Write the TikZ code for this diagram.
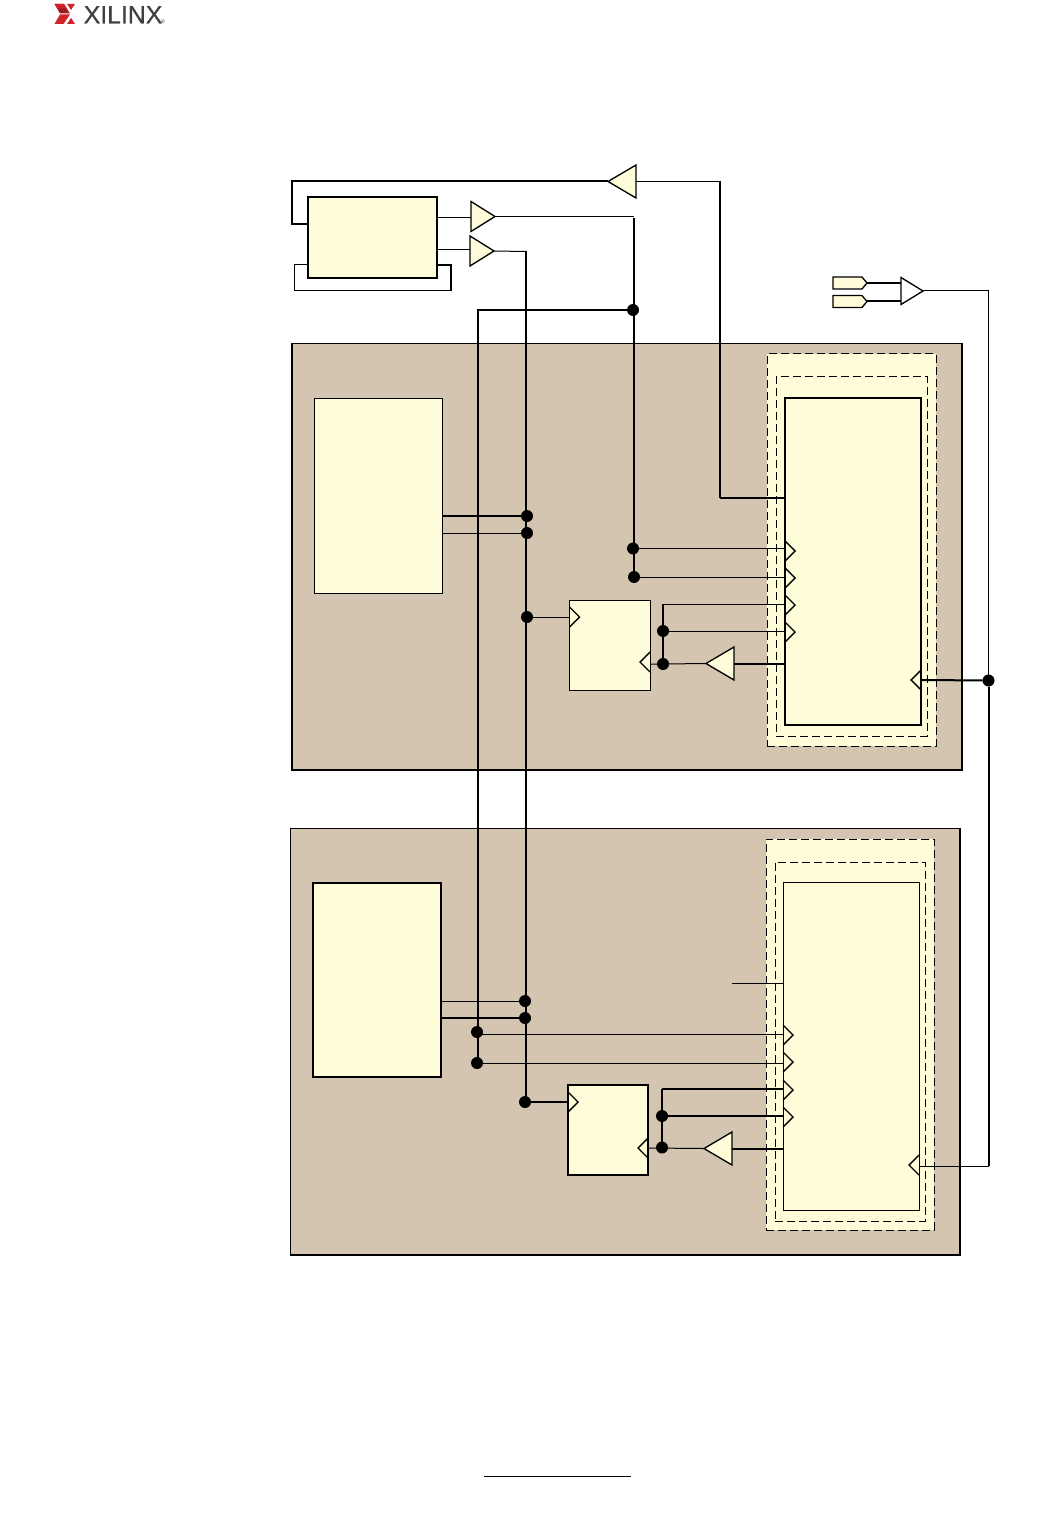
\documentclass[tikz,border=0pt]{standalone}
\usepackage{fontspec}
\setmainfont{Liberation Sans}
\usetikzlibrary{shapes.geometric,shapes.symbols}
\definecolor{tan}{HTML}{D3C5AF}
\definecolor{ylw}{HTML}{FFFCDA}
\definecolor{xred}{HTML}{D2232A}
\definecolor{xdark}{HTML}{9E1C22}
\definecolor{xgray}{HTML}{3F3F41}
\tikzset{
  thin line/.style={line width=0.75pt},
  thick line/.style={line width=1.5pt},
  boxnode/.style={draw=black,fill=ylw,rectangle,inner sep=0pt,outer sep=0pt,line width=1.1pt},
  panel/.style={draw=black,fill=tan,rectangle,inner sep=0pt,outer sep=0pt,line width=0.6pt},
  dashbox/.style={draw=black,fill=ylw,rectangle,inner sep=0pt,outer sep=0pt,line width=0.75pt,dash pattern=on 6pt off 3pt},
  dashline/.style={draw=black,rectangle,inner sep=0pt,outer sep=0pt,line width=0.75pt,dash pattern=on 6pt off 3pt},
  dot/.style={circle,fill=black,draw=none,minimum size=9pt,inner sep=0pt,outer sep=0pt},
  buf/.style={isosceles triangle,isosceles triangle stretches,draw=black,fill=ylw,line width=1pt,inner sep=0pt,outer sep=0pt,anchor=apex},
  pad/.style={signal,signal to=east,signal pointer angle=100,draw=black,fill=ylw,line width=1pt,inner sep=0pt,outer sep=0pt,minimum width=34*0.75pt,minimum height=12*0.75pt,anchor=east},
  chev/.style={line width=1.05pt,line join=miter}
}
\newcommand{\chevR}[1]{\draw[chev] (#1)++(0,-10) -- ++(10,10) -- ++(-10,10);}
\newcommand{\chevL}[1]{\draw[chev] (#1)++(0,-10) -- ++(-10,10) -- ++(10,10);}
\begin{document}
\begin{tikzpicture}[x=0.75pt,y=-0.75pt]
\useasboundingbox (0,0) rectangle (1062,1515);
% logo
\fill[xdark] (54.5,4) -- (64,4) -- (70,13.5) -- (60,13.5) -- cycle;
\fill[xred] (54.5,4) -- (64,4) -- (67,8.5) -- (58,8.5) -- cycle;
\fill[xred] (54.5,24) -- (63.5,24) -- (70,14.5) -- (60,14.5) -- cycle;
\fill[xred] (75,4) -- (67,4) -- (71,10) -- cycle;
\fill[xred] (75,24) -- (67,24) -- (71,18) -- cycle;
\node[anchor=base west,inner sep=0pt,text=xgray,font=\fontsize{18.6}{18.6}\selectfont] (logotext) at (83.5,23.3) {\addfontfeature{FakeBold=0.4}XILINX};
\node[anchor=base west,inner sep=0pt,text=xgray,font=\fontsize{4}{4}\selectfont] (logoreg) at (160.5,23.3) {®};
% panels
\node[panel,minimum width=670*0.75pt,minimum height=427*0.75pt] (panelA) at (627,556.5) {};
\draw[line width=1.3pt] (panelA.north east) -- (panelA.south east) -- (panelA.south west) -- (panelA.north west);
\node[panel,minimum width=670*0.75pt,minimum height=427*0.75pt] (panelB) at (625,1041.5) {};
\draw[line width=1.3pt] (panelB.north east) -- (panelB.south east) -- (panelB.south west);
% dashed regions
\node[dashbox,minimum width=169*0.75pt,minimum height=392*0.75pt] (dashAo) at (851.5,550) {};
\node[dashline,minimum width=151*0.75pt,minimum height=359*0.75pt] (dashAi) at (851.5,556.5) {};
\node[dashbox,minimum width=168*0.75pt,minimum height=391*0.75pt] (dashBo) at (850,1034.5) {};
\node[dashline,minimum width=150*0.75pt,minimum height=359*0.75pt] (dashBi) at (850,1041.5) {};
% boxes
\node[boxnode,minimum width=129*0.75pt,minimum height=81*0.75pt] (pll) at (372.5,237.5) {};
\node[boxnode,line width=0.72pt,minimum width=128*0.75pt,minimum height=195*0.75pt] (blockA) at (378,495.5) {};
\node[boxnode,line width=0.72pt,minimum width=81*0.75pt,minimum height=90*0.75pt] (ffA) at (609.5,645) {};
\node[boxnode,line width=0.9pt,minimum width=136*0.75pt,minimum height=327*0.75pt] (coreA) at (853,561.5) {};
\node[boxnode,line width=0.85pt,minimum width=128*0.75pt,minimum height=194*0.75pt] (blockB) at (377,980) {};
\node[boxnode,minimum width=80*0.75pt,minimum height=90*0.75pt] (ffB) at (608,1130) {};
\node[boxnode,line width=0.72pt,minimum width=136*0.75pt,minimum height=328*0.75pt] (coreB) at (851,1046) {};
% buffers
\node[buf,shape border rotate=180,minimum width=33*0.75pt,minimum height=28*0.75pt] (fbbuf) at (608,181.5) {};
\node[buf,minimum width=30*0.75pt,minimum height=24*0.75pt] (bufone) at (495,216.5) {};
\node[buf,minimum width=30*0.75pt,minimum height=24*0.75pt] (buftwo) at (494,251) {};
\node[buf,fill=white,minimum width=27*0.75pt,minimum height=22*0.75pt] (ibuf) at (923,291) {};
\node[buf,shape border rotate=180,minimum width=33*0.75pt,minimum height=28*0.75pt] (bufA) at (706,663.5) {};
\node[buf,shape border rotate=180,minimum width=33*0.75pt,minimum height=28*0.75pt] (bufB) at (704,1148.5) {};
\node[pad] (padp) at (867,283) {};
\node[pad] (padn) at (867,301.5) {};
% junctions
\node[dot] (jtop) at (633,310) {};
\node[dot] (ja1) at (527,516) {};
\node[dot] (ja2) at (527,533) {};
\node[dot] (ja3) at (527,617) {};
\node[dot] (ja4) at (633,548.5) {};
\node[dot] (ja5) at (634,577) {};
\node[dot] (ja6) at (663,631) {};
\node[dot] (ja7) at (663,664) {};
\node[dot] (jr) at (988.5,680.5) {};
\node[dot] (jb1) at (525,1001) {};
\node[dot] (jb2) at (525,1018) {};
\node[dot] (jb3) at (525,1102) {};
\node[dot] (jb4) at (477,1032) {};
\node[dot] (jb5) at (477,1063) {};
\node[dot] (jb6) at (662,1116) {};
\node[dot] (jb7) at (662,1147.5) {};
% free points
\coordinate (ca1) at (785,551);
\coordinate (ca2) at (785,578);
\coordinate (ca3) at (785,605);
\coordinate (ca4) at (785,632);
\coordinate (cb1) at (783,1035);
\coordinate (cb2) at (783,1062);
\coordinate (cb3) at (783,1090);
\coordinate (cb4) at (783,1117);
\coordinate (ffAin) at (569.5,617);
\coordinate (ffAout) at (650,662);
\coordinate (ffBin) at (568,1102);
\coordinate (ffBout) at (648,1148);
\coordinate (coreAclk) at (921,680);
\coordinate (coreBclk) at (919,1165);
\coordinate (fbfree) at (732,983);
% connectors: top
\draw[thin line] (fbbuf.lower side) -- (720,181.5);
\draw[line width=1.2pt] (720,181) -- (720,498) coordinate (fbdown);
\draw[thick line] (fbdown) -- (coreA.west |- fbdown);
\draw[thick line,line join=miter] (fbbuf.apex) -| (292,224) -- (pll.west |- 0,224);
\draw[thin line] (pll.west |- 0,265) -- (294,265);
\draw[thin line] (294,265) -- (294,291) -- (451,291);
\draw[thick line] (451,291) -- (451,265) -- (pll.east |- 0,265);
\draw[thin line] (pll.east |- 0,218) -- (bufone.lower side |- 0,218);
\draw[thin line] (pll.east |- 0,250) -- (buftwo.lower side |- 0,250);
\draw[thin line] (bufone.apex) -- (634,216.5);
\draw[thick line] (634,218) -- (ja5);
\draw[thin line] (buftwo.apex) -- (526,251.5);
\draw[thick line] (526,251) -- (526,1102);
\draw[thick line] (jtop) -- (478,310) -- (478,1063);
% connectors: block A
\draw[thick line] (blockA.east |- ja1) -- (ja1);
\draw[thin line] (blockA.east |- ja2) -- (ja2);
\draw[thin line] (ja3) -- (ffAin);
\draw[thin line] (ja4) -- (coreA.west |- ja4);
\draw[thin line] (ja5) -- (coreA.west |- ja5);
\draw[thick line] (ja7) -- (663,604);
\draw[thin line] (663,604) -- (coreA.west |- 0,604);
\draw[thin line] (ja6) -- (coreA.west |- ja6);
\draw[thin line] (ffAout |- ja7) -- (ja7) -- (bufA.apex);
\draw[thick line] (bufA.lower side) -- (coreA.west |- bufA.lower side);
\draw[thick line] (coreAclk) -- (jr);
% connectors: right
\draw[thick line] (padp) -- (ibuf.lower side |- padp);
\draw[thick line] (padn) -- (ibuf.lower side |- padn);
\draw[thin line] (ibuf.apex) -- (988.5,291) -- (jr);
\draw[thick line] (jr) -- (988.5,1166);
\draw[thin line] (988.5,1166) -- (coreBclk |- 0,1166);
% connectors: block B
\draw[thin line] (blockB.east |- jb1) -- (jb1);
\draw[thick line] (blockB.east |- jb2) -- (jb2);
\draw[thick line] (jb3) -- (ffBin);
\draw[thin line] (jb4 |- 0,1034) -- (coreB.west |- 0,1034);
\draw[thin line] (jb5) -- (coreB.west |- jb5);
\draw[thick line] (jb7) -- (662,1089);
\draw[thick line] (662,1089) -- (coreB.west |- 0,1089);
\draw[thick line] (jb6) -- (coreB.west |- jb6);
\draw[thin line] (ffBout) -- (bufB.apex);
\draw[thick line] (bufB.lower side) -- (coreB.west |- bufB.lower side);
\draw[thin line] (fbfree) -- (coreB.west |- fbfree);
% clock chevrons
\chevR{ca1}\chevR{ca2}\chevR{ca3}\chevR{ca4}
\chevR{cb1}\chevR{cb2}\chevR{cb3}\chevR{cb4}
\chevR{ffAin}\chevR{ffBin}
\chevL{ffAout}\chevL{ffBout}
\chevL{coreAclk}\chevL{coreBclk}
% footer rule
\coordinate (ruleL) at (484,1476);
\coordinate (ruleR) at (631,1476);
\draw[line width=0.6pt] (ruleL) -- (ruleR);
\end{tikzpicture}
\end{document}
